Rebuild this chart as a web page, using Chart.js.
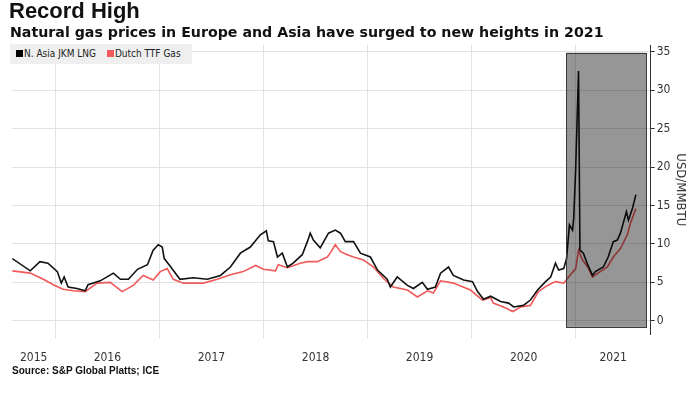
<!DOCTYPE html>
<html lang="en">
<head>
    <meta charset="utf-8">
    <script src="https://cdn.jsdelivr.net/npm/chart.js@4.4.1/dist/chart.umd.min.js"></script>
    <style>
        body { margin: 0; width: 696px; height: 395px; background: #fff; position: relative; overflow: hidden; font-family: "Liberation Sans", Arial, sans-serif; color: #111; }
        #chart { position: absolute; left: 0; top: 0; }
        .title { position: absolute; left: 9px; top: 0px; font-size: 22px; font-weight: bold; line-height: 22px; }
        .subtitle { position: absolute; left: 10px; top: 24px; font-family: "DejaVu Sans", sans-serif; font-size: 14.2px; font-weight: bold; line-height: 16px; }
        .source { position: absolute; left: 12px; top: 365px; font-size: 10px; font-weight: bold; line-height: 12px; }
        .legend { position: absolute; left: 10px; top: 44px; width: 182px; height: 20px; background: #efefef;
                  font-family: "DejaVu Sans Condensed", "DejaVu Sans", sans-serif; font-size: 10px; line-height: 20px; color: #222; }
        .legend span.sw { display: inline-block; width: 7px; height: 7px; margin: 0 1px 0 6px; vertical-align: -0px; }
    </style>
</head>
<body>
<canvas id="chart" width="696" height="395"></canvas>
<div class="title">Record High</div>
<div class="subtitle">Natural gas prices in Europe and Asia have surged to new heights in 2021</div>
<div class="legend"><span class="sw" style="background:#000"></span>N. Asia JKM LNG <span class="sw" style="background:#f05a5a;margin-left:8px"></span>Dutch TTF Gas</div>
<div class="source">Source: S&amp;P Global Platts; ICE</div>

<script>
    // N. Asia JKM LNG (USD/MMBTU)
    var jkmDates = ['2015-08-03', '2015-10-05', '2015-11-08', '2015-12-06', '2016-01-08', '2016-01-22', '2016-02-01',
        '2016-02-15', '2016-03-17', '2016-04-15', '2016-04-25', '2016-06-07', '2016-07-23', '2016-08-17', '2016-09-14',
        '2016-10-16', '2016-11-20', '2016-12-10', '2016-12-28', '2017-01-11', '2017-01-18', '2017-02-08', '2017-03-14',
        '2017-04-30', '2017-06-18', '2017-08-03', '2017-09-07', '2017-10-12', '2017-11-16', '2017-12-21', '2018-01-11',
        '2018-01-18', '2018-02-05', '2018-02-19', '2018-03-08', '2018-03-26', '2018-04-15', '2018-05-17', '2018-06-04',
        '2018-06-14', '2018-06-25', '2018-07-19', '2018-08-17', '2018-09-10', '2018-09-28', '2018-10-15', '2018-11-13',
        '2018-12-07', '2019-01-11', '2019-02-05', '2019-03-11', '2019-03-22', '2019-04-15', '2019-05-21', '2019-06-11',
        '2019-07-12', '2019-07-30', '2019-08-27', '2019-09-14', '2019-10-12', '2019-10-29', '2019-12-04', '2020-01-04',
        '2020-01-22', '2020-02-12', '2020-03-08', '2020-04-12', '2020-05-10', '2020-05-28', '2020-07-01', '2020-07-26',
        '2020-08-20', '2020-09-17', '2020-10-05', '2020-10-22', '2020-11-02', '2020-11-20', '2020-11-30', '2020-12-10',
        '2020-12-21', '2020-12-25', '2021-01-01', '2021-01-11', '2021-01-16', '2021-01-28', '2021-02-12', '2021-03-01',
        '2021-03-11', '2021-04-08', '2021-04-25', '2021-05-13', '2021-05-27', '2021-06-07', '2021-06-28', '2021-07-05',
        '2021-07-19', '2021-07-31'];
    var jkmPrices = [8.1, 6.5, 7.7, 7.5, 6.4, 4.9, 5.7,
        4.4, 4.2, 3.9, 4.7, 5.2, 6.2, 5.4, 5.4,
        6.7, 7.3, 9.2, 9.9, 9.6, 8.1, 7.1, 5.4,
        5.6, 5.4, 5.9, 7.0, 8.8, 9.6, 11.2, 11.7,
        10.4, 10.3, 8.3, 8.8, 7.0, 7.5, 8.6, 10.3,
        11.4, 10.5, 9.5, 11.4, 11.8, 11.4, 10.3, 10.3,
        8.8, 8.3, 6.6, 5.4, 4.4, 5.7, 4.6, 4.2,
        5.0, 4.1, 4.4, 6.2, 7.0, 5.9, 5.3, 5.1,
        3.8, 2.8, 3.2, 2.5, 2.3, 1.8, 2.0, 2.7,
        4.0, 5.1, 5.7, 7.5, 6.6, 6.8, 8.1, 12.5,
        11.8, 13.3, 19.8, 32.5, 9.2, 8.8, 7.3, 5.9,
        6.4, 7.0, 8.3, 10.3, 10.5, 11.4, 14.2, 13.1,
        14.6, 16.4];

    // Dutch TTF Gas (USD/MMBTU)
    var ttfDates = ['2015-08-03', '2015-10-05', '2015-11-20', '2015-12-25', '2016-01-28', '2016-03-04', '2016-04-15',
        '2016-05-27', '2016-07-12', '2016-08-23', '2016-10-01', '2016-11-05', '2016-12-10', '2017-01-04', '2017-01-28',
        '2017-02-19', '2017-03-26', '2017-06-04', '2017-07-23', '2017-09-07', '2017-10-22', '2017-12-04', '2018-01-01',
        '2018-02-12', '2018-02-22', '2018-03-26', '2018-05-10', '2018-06-04', '2018-07-08', '2018-08-13', '2018-08-23',
        '2018-09-10', '2018-09-28', '2018-10-22', '2018-11-13', '2018-12-18', '2019-01-22', '2019-02-26', '2019-04-01',
        '2019-05-21', '2019-06-25', '2019-07-30', '2019-08-20', '2019-09-14', '2019-10-29', '2019-12-28', '2020-02-08',
        '2020-03-08', '2020-03-17', '2020-04-22', '2020-05-25', '2020-06-21', '2020-07-26', '2020-08-23', '2020-09-24',
        '2020-10-22', '2020-11-20', '2020-12-07', '2021-01-01', '2021-01-11', '2021-01-25', '2021-02-12', '2021-03-01',
        '2021-03-28', '2021-04-22', '2021-05-13', '2021-06-07', '2021-07-01', '2021-07-12', '2021-07-31'];
    var ttfPrices = [6.5, 6.2, 5.4, 4.7, 4.1, 3.9, 3.8,
        4.9, 5.0, 3.8, 4.6, 5.9, 5.3, 6.4, 6.8,
        5.4, 4.9, 4.9, 5.4, 6.0, 6.4, 7.2, 6.7,
        6.5, 7.3, 6.9, 7.5, 7.7, 7.7, 8.3, 8.8,
        9.9, 9.0, 8.6, 8.3, 7.9, 7.0, 5.5, 4.4,
        4.0, 3.1, 3.9, 3.6, 5.2, 4.9, 4.0, 2.7,
        3.0, 2.3, 1.8, 1.2, 1.8, 2.0, 3.8, 4.6,
        5.1, 4.9, 5.7, 6.8, 9.2, 7.9, 7.0, 5.7,
        6.4, 7.0, 8.3, 9.4, 11.2, 12.7, 14.6];

    // axes
    var years = ['2015', '2016', '2017', '2018', '2019', '2020', '2021'];
    var yTicks = [0, 5, 10, 15, 20, 25, 30, 35];
    var xStart = '2015-08-02', xEnd = '2021-09-21';
    var yMin = -1.8, yMax = 35.9;

    // shaded highlight
    var shadeFrom = '2020-11-29', shadeTo = '2021-09-05';
    var shadeLow = -0.8, shadeHigh = 34.9;

    function toYear(s) {
        var p = s.split('-').map(Number);
        var t0 = Date.UTC(p[0], 0, 1), t1 = Date.UTC(p[0] + 1, 0, 1);
        return p[0] + (Date.UTC(p[0], p[1] - 1, p[2]) - t0) / (t1 - t0);
    }

    function points(dates, vals) {
        var out = [];
        for (var i = 0; i < dates.length; i++) out.push({x: toYear(dates[i]), y: vals[i]});
        return out;
    }

    var xMin = toYear(xStart), xMax = toYear(xEnd);

    // gridlines at year starts, labels centred on the visible part of each year
    var xTickList = [];
    for (var i = 0; i < years.length; i++) {
        var y = Number(years[i]);
        if (y > xMin) xTickList.push({value: y, grid: true});
        var a = Math.max(y, xMin), b = Math.min(y + 1, xMax);
        xTickList.push({value: (a + b) / 2, label: years[i]});
    }
    xTickList.sort(function (p, q) { return p.value - q.value; });

    var shadePlugin = {
        id: 'shade',
        afterDatasetsDraw: function (chart) {
            var ctx = chart.ctx, xs = chart.scales.x, ys = chart.scales.y;
            var l = xs.getPixelForValue(toYear(shadeFrom)), r = xs.getPixelForValue(toYear(shadeTo));
            var t = ys.getPixelForValue(shadeHigh), btm = ys.getPixelForValue(shadeLow);
            ctx.save();
            ctx.fillStyle = 'rgba(0,0,0,0.41)';
            ctx.fillRect(l, t, r - l, btm - t);
            ctx.strokeStyle = '#3a3a3a';
            ctx.lineWidth = 1;
            ctx.strokeRect(Math.round(l) + 0.5, Math.round(t) + 0.5, Math.round(r - l), Math.round(btm - t));
            ctx.restore();
        }
    };

    new Chart(document.getElementById('chart'), {
        type: 'line',
        data: {
            datasets: [{
                label: 'N. Asia JKM LNG',
                data: points(jkmDates, jkmPrices),
                borderColor: '#111',
                borderWidth: 1.6,
                pointRadius: 0,
                fill: false
            }, {
                label: 'Dutch TTF Gas',
                data: points(ttfDates, ttfPrices),
                borderColor: '#f05a5a',
                borderWidth: 1.6,
                pointRadius: 0,
                fill: false
            }]
        },
        options: {
            responsive: false,
            animation: false,
            layout: {padding: {left: 12, top: 45, right: 6, bottom: 18}},
            plugins: {legend: {display: false}, tooltip: {enabled: false}},
            scales: {
                x: {
                    type: 'linear',
                    min: xMin,
                    max: xMax,
                    border: {display: false},
                    afterBuildTicks: function (scale) {
                        scale.ticks = xTickList.map(function (t) { return {value: t.value}; });
                    },
                    grid: {
                        color: function (c) {
                            var t = xTickList[c.index];
                            return t && t.grid ? '#e2e2e2' : 'rgba(0,0,0,0)';
                        },
                        tickLength: 4
                    },
                    ticks: {
                        autoSkip: false,
                        maxRotation: 0,
                        padding: 12,
                        color: '#333',
                        font: {family: 'DejaVu Sans Condensed, DejaVu Sans', size: 12},
                        callback: function (v, i) { return xTickList[i].label || ''; }
                    }
                },
                y: {
                    position: 'right',
                    min: yMin,
                    max: yMax,
                    afterBuildTicks: function (scale) {
                        scale.ticks = yTicks.map(function (v) { return {value: v}; });
                    },
                    border: {display: true, color: '#333', width: 1},
                    grid: {color: '#e2e2e2', tickColor: '#333', tickLength: 4},
                    ticks: {
                        padding: 2,
                        color: '#333',
                        font: {family: 'DejaVu Sans Condensed, DejaVu Sans', size: 12}
                    },
                    title: {
                        display: true,
                        text: 'USD/MMBTU',
                        color: '#333',
                        font: {family: 'DejaVu Sans Condensed, DejaVu Sans', size: 13},
                        padding: {top: 2, bottom: 0}
                    }
                }
            }
        },
        plugins: [shadePlugin]
    });
</script>
</body>
</html>
